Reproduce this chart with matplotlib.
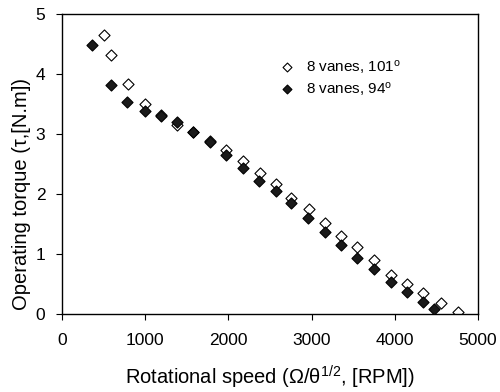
import matplotlib
matplotlib.use("Agg")
import matplotlib.pyplot as plt

plt.rcParams['font.family'] = ['Liberation Sans', 'DejaVu Sans']
plt.rcParams['mathtext.fontset'] = 'custom'
plt.rcParams['mathtext.rm'] = 'Liberation Sans'
plt.rcParams['mathtext.it'] = 'Liberation Sans'

speed_101 = [508, 589, 790, 998, 1190, 1378, 1570, 1779, 1971, 2171, 2375, 2568,
             2756, 2965, 3165, 3357, 3549, 3750, 3958, 4143, 4343, 4551, 4760]
torque_101 = [4.645, 4.32, 3.83, 3.50, 3.31, 3.15, 3.04, 2.88, 2.73, 2.55, 2.345, 2.165,
              1.94, 1.745, 1.52, 1.30, 1.11, 0.90, 0.655, 0.505, 0.355, 0.19, 0.04]

speed_94 = [365, 589, 785, 994, 1190, 1378, 1570, 1779, 1971, 2171, 2371, 2572,
            2756, 2957, 3165, 3357, 3549, 3750, 3958, 4143, 4343, 4471]
torque_94 = [4.48, 3.82, 3.54, 3.39, 3.30, 3.205, 3.04, 2.87, 2.645, 2.43, 2.225, 2.045,
             1.845, 1.605, 1.37, 1.15, 0.94, 0.745, 0.53, 0.36, 0.195, 0.08]

xticks = [0, 1000, 2000, 3000, 4000, 5000]
yticks = [0, 1, 2, 3, 4, 5]

fig = plt.figure(figsize=(5, 3.92), dpi=100)
ax = fig.add_axes([0.124, 0.199, 0.832, 0.765])

ax.scatter(speed_101, torque_101, marker='D', s=32, facecolors='white',
           edgecolors='black', linewidths=0.8, label='8 vanes, 101$^{o}$', zorder=2)
ax.scatter(speed_94, torque_94, marker='D', s=32, facecolors='#1a1a1a',
           edgecolors='black', linewidths=0.8, label='8 vanes, 94$^{o}$', zorder=3)

ax.set_xlim(0, 5000)
ax.set_ylim(0, 5)
ax.set_xticks(xticks)
ax.set_yticks(yticks)
ax.tick_params(direction='out', length=4, width=0.8, labelsize=12.5)
ax.tick_params(axis='x', pad=10)
ax.tick_params(axis='y', pad=8)
for s in ax.spines.values():
    s.set_linewidth(1.0)

ax.set_xlabel('Rotational speed (\u03a9/\u03b8$^{1/2}$, [RPM])', fontsize=14.5)
ax.set_ylabel('Operating torque (\u03c4,[N.m])', fontsize=14.5)
ax.xaxis.set_label_coords(0.5, -0.165)
ax.yaxis.set_label_coords(-0.075, 0.40)

leg = ax.legend(loc='upper left', bbox_to_anchor=(0.47, 0.90), frameon=False,
                fontsize=11, handletextpad=0.3, labelspacing=0.25, markerscale=0.8)

fig.savefig('out.png', dpi=100)
